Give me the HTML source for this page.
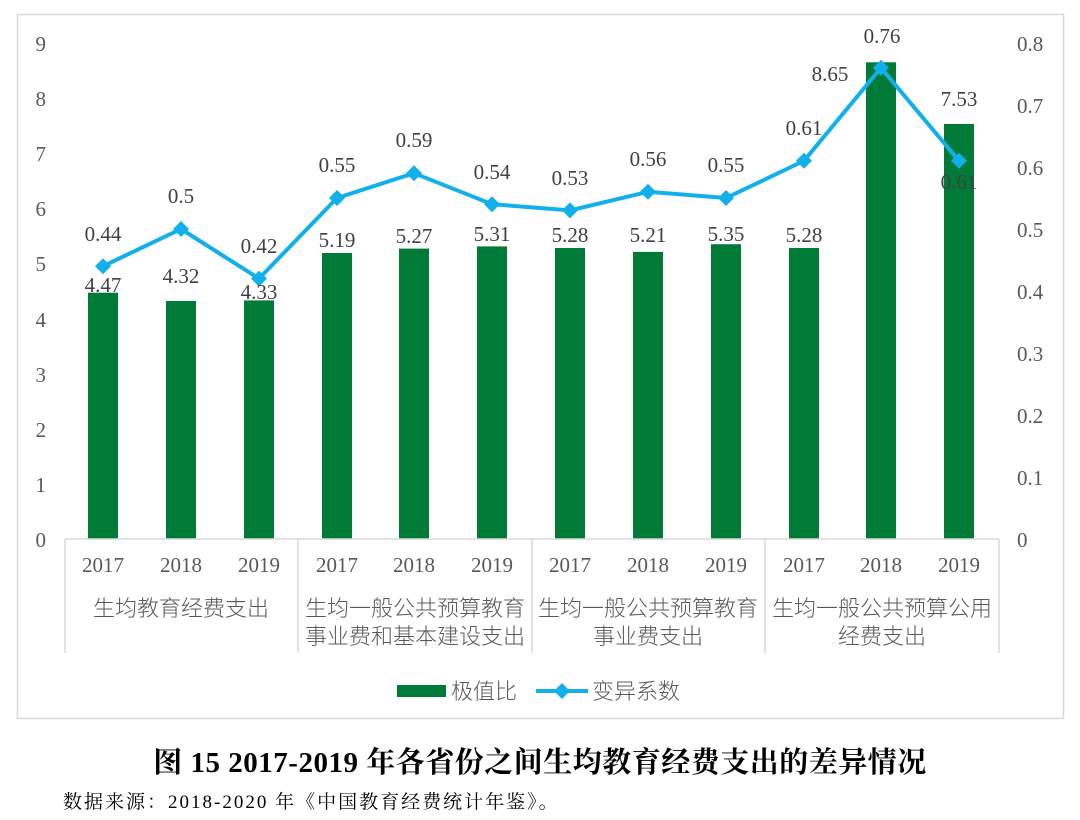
<!DOCTYPE html>
<html><head><meta charset="utf-8"><style>
body{margin:0;background:#fff;}
svg{display:block;}
.t{font-family:"Liberation Serif",serif;font-size:21px;fill:#595959;}
.d{font-family:"Liberation Serif",serif;font-size:21px;fill:#404040;}
.c{font-family:"Liberation Sans","Noto Sans CJK SC",sans-serif;font-size:22px;fill:#595959;font-weight:300;}
</style></head><body>
<svg width="1080" height="820" viewBox="0 0 1080 820">
<rect x="17.5" y="14.5" width="1046" height="704" fill="#fff" stroke="#d9d9d9" stroke-width="1.5"/>
<g class="t" text-anchor="end">
<text x="46" y="547">0</text><text x="46" y="492">1</text><text x="46" y="437">2</text><text x="46" y="382">3</text><text x="46" y="327">4</text><text x="46" y="271">5</text><text x="46" y="216">6</text><text x="46" y="161">7</text><text x="46" y="106">8</text><text x="46" y="51">9</text>
</g>
<g class="t" text-anchor="start">
<text x="1017" y="547">0</text><text x="1017" y="485">0.1</text><text x="1017" y="423">0.2</text><text x="1017" y="361">0.3</text><text x="1017" y="299">0.4</text><text x="1017" y="237">0.5</text><text x="1017" y="175">0.6</text><text x="1017" y="113">0.7</text><text x="1017" y="51">0.8</text>
</g>
<g fill="#007a37">
<rect x="88" y="292.7" width="30" height="246.3"/>
<rect x="166" y="301" width="30" height="238"/>
<rect x="244" y="300.4" width="30" height="238.6"/>
<rect x="322" y="253" width="30" height="286"/>
<rect x="399" y="248.6" width="30" height="290.4"/>
<rect x="477" y="246.4" width="30" height="292.6"/>
<rect x="555" y="248" width="30" height="291"/>
<rect x="633" y="251.9" width="30" height="287.1"/>
<rect x="711" y="244.2" width="30" height="294.8"/>
<rect x="789" y="248" width="30" height="291"/>
<rect x="866" y="62.3" width="30" height="476.7"/>
<rect x="944" y="124" width="30" height="415"/>
</g>
<g stroke="#d9d9d9" stroke-width="1.5">
<line x1="65" y1="539" x2="999" y2="539"/>
<line x1="65" y1="539" x2="65" y2="653"/>
<line x1="298" y1="539" x2="298" y2="653"/>
<line x1="532" y1="539" x2="532" y2="653"/>
<line x1="765" y1="539" x2="765" y2="653"/>
<line x1="999" y1="539" x2="999" y2="653"/>
</g>
<g class="t" text-anchor="middle">
<text x="103" y="572">2017</text><text x="181" y="572">2018</text><text x="259" y="572">2019</text>
<text x="337" y="572">2017</text><text x="414" y="572">2018</text><text x="492" y="572">2019</text>
<text x="570" y="572">2017</text><text x="648" y="572">2018</text><text x="726" y="572">2019</text>
<text x="804" y="572">2017</text><text x="881" y="572">2018</text><text x="959" y="572">2019</text>
</g>
<g class="c" text-anchor="middle">
<text x="181" y="616">生均教育经费支出</text>
<text x="415" y="616">生均一般公共预算教育</text><text x="415" y="644">事业费和基本建设支出</text>
<text x="648" y="616">生均一般公共预算教育</text><text x="648" y="644">事业费支出</text>
<text x="882" y="616">生均一般公共预算公用</text><text x="882" y="644">经费支出</text>
</g>
<polyline fill="none" stroke="#12b0ea" stroke-width="4" stroke-linejoin="round" points="103,266.2 181,229 259,278.6 337,198 414,173.2 492,204.2 570,210.4 648,191.8 726,198 804,160.8 881,67.8 959,160.8"/>
<g fill="#12b0ea">
<path d="M103,258.2l8,8l-8,8l-8,-8z"/><path d="M181,221l8,8l-8,8l-8,-8z"/><path d="M259,270.6l8,8l-8,8l-8,-8z"/>
<path d="M337,190l8,8l-8,8l-8,-8z"/><path d="M414,165.2l8,8l-8,8l-8,-8z"/><path d="M492,196.2l8,8l-8,8l-8,-8z"/>
<path d="M570,202.4l8,8l-8,8l-8,-8z"/><path d="M648,183.8l8,8l-8,8l-8,-8z"/><path d="M726,190l8,8l-8,8l-8,-8z"/>
<path d="M804,152.8l8,8l-8,8l-8,-8z"/><path d="M881,59.8l8,8l-8,8l-8,-8z"/><path d="M959,152.8l8,8l-8,8l-8,-8z"/>
</g>
<g class="d" text-anchor="middle">
<text x="103" y="292">4.47</text><text x="181" y="283">4.32</text><text x="259" y="299">4.33</text>
<text x="337" y="247">5.19</text><text x="414" y="243">5.27</text><text x="492" y="241">5.31</text>
<text x="570" y="242">5.28</text><text x="648" y="242">5.21</text><text x="726" y="241">5.35</text>
<text x="804" y="242">5.28</text><text x="830" y="81">8.65</text><text x="959" y="106">7.53</text>
<text x="103" y="241">0.44</text><text x="181" y="203">0.5</text><text x="259" y="253">0.42</text>
<text x="337" y="172">0.55</text><text x="414" y="147">0.59</text><text x="492" y="179">0.54</text>
<text x="570" y="185">0.53</text><text x="648" y="166">0.56</text><text x="726" y="172">0.55</text>
<text x="804" y="135">0.61</text><text x="882" y="43">0.76</text><text x="959" y="189">0.61</text>
</g>
<rect x="397" y="685" width="49" height="12" fill="#007a37"/>
<text class="c" x="451" y="699">极值比</text>
<line x1="536" y1="691" x2="588" y2="691" stroke="#12b0ea" stroke-width="4"/>
<path d="M562,683l8,8l-8,8l-8,-8z" fill="#12b0ea"/>
<text class="c" x="592" y="699">变异系数</text>
<text x="540" y="772" text-anchor="middle" style="font-family:'Liberation Serif','Noto Serif CJK SC',serif;font-size:29px;letter-spacing:0.5px;font-weight:bold;fill:#000">图 15 2017-2019 年各省份之间生均教育经费支出的差异情况</text>
<text x="63" y="808" style="font-family:'Liberation Serif','Noto Serif CJK SC',serif;font-size:19px;letter-spacing:2px;fill:#000">数据来源：2018-2020 年《中国教育经费统计年鉴》。</text>
</svg>
</body></html>
